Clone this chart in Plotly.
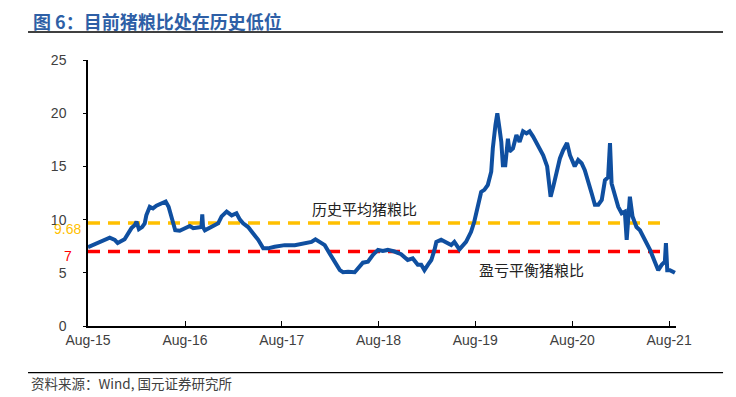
import plotly.graph_objects as go

# ---- data ----
dates = [
    "2015-08-01", "2015-08-27", "2015-09-14", "2015-10-03", "2015-10-22", "2015-11-10", "2015-11-21",
    "2015-12-17", "2015-12-29", "2016-01-12", "2016-01-25", "2016-01-31", "2016-02-09", "2016-02-21",
    "2016-03-02", "2016-03-08", "2016-03-21", "2016-04-02", "2016-04-15", "2016-05-04", "2016-05-20",
    "2016-05-31", "2016-06-08", "2016-06-16", "2016-06-25", "2016-07-12", "2016-08-01", "2016-08-19",
    "2016-09-01", "2016-09-20", "2016-10-02", "2016-10-05", "2016-10-08", "2016-10-15", "2016-11-03",
    "2016-11-22", "2016-12-04", "2016-12-17", "2017-01-05", "2017-01-24", "2017-02-11", "2017-02-24",
    "2017-03-08", "2017-03-27", "2017-04-15", "2017-05-04", "2017-05-23", "2017-06-10", "2017-07-05",
    "2017-08-12", "2017-09-19", "2017-10-27", "2017-11-21", "2017-12-06", "2017-12-22", "2018-01-10",
    "2018-01-29", "2018-02-17", "2018-03-08", "2018-03-20", "2018-04-08", "2018-05-03", "2018-05-16",
    "2018-06-03", "2018-06-22", "2018-07-11", "2018-07-30", "2018-08-17", "2018-09-05", "2018-09-30",
    "2018-10-25", "2018-11-19", "2018-12-08", "2018-12-27", "2019-01-09", "2019-01-21", "2019-02-03",
    "2019-02-16", "2019-02-28", "2019-03-07", "2019-03-25", "2019-04-13", "2019-05-02", "2019-05-14",
    "2019-06-02", "2019-06-27", "2019-07-16", "2019-07-28", "2019-08-10", "2019-08-23", "2019-09-04",
    "2019-09-17", "2019-09-30", "2019-10-06", "2019-10-16", "2019-10-23", "2019-10-31", "2019-11-07",
    "2019-11-13", "2019-11-22", "2019-12-02", "2019-12-08", "2019-12-21", "2020-01-03", "2020-01-15",
    "2020-01-28", "2020-02-10", "2020-02-22", "2020-03-06", "2020-03-25", "2020-04-13", "2020-04-28",
    "2020-05-05", "2020-05-11", "2020-05-21", "2020-06-02", "2020-06-15", "2020-06-27", "2020-07-12",
    "2020-07-23", "2020-08-10", "2020-08-23", "2020-09-05", "2020-09-17", "2020-09-30", "2020-10-13",
    "2020-10-25", "2020-11-07", "2020-11-20", "2020-12-02", "2020-12-14", "2020-12-21", "2020-12-27",
    "2021-01-09", "2021-01-21", "2021-02-03", "2021-02-15", "2021-02-22", "2021-02-28", "2021-03-06",
    "2021-03-16", "2021-03-31", "2021-04-13", "2021-05-02", "2021-05-21", "2021-06-08", "2021-06-21",
    "2021-07-04", "2021-07-16", "2021-07-20", "2021-07-25", "2021-08-04", "2021-08-23",
]
hog_grain_ratio = [
    7.4, 7.7, 7.9, 8.1, 8.3, 8.1, 7.8,
    8.15, 8.7, 9.2, 9.5, 9.8, 9.1, 9.3,
    9.65, 10.4, 11.2, 11.05, 11.3, 11.5, 11.7,
    11.2, 10.4, 9.65, 9.0, 8.95, 9.2, 9.4,
    9.2, 9.3, 9.3, 10.5, 9.3, 9.0, 9.3,
    9.5, 9.65, 10.3, 10.75, 10.4, 10.6, 10.0,
    9.65, 9.3, 8.7, 8.1, 7.3, 7.3, 7.45,
    7.6, 7.6, 7.8, 7.9, 8.15, 7.9, 7.6,
    6.8, 6.05, 5.25, 5.05, 5.1, 5.05, 5.4,
    5.95, 6.05, 6.7, 7.15, 7.05, 7.15, 7.0,
    6.75, 6.2, 6.35, 5.75, 5.75, 5.25, 5.75,
    6.2, 7.15, 7.9, 8.1, 7.8, 7.6, 7.9,
    7.2, 7.9, 8.85, 9.8, 11.4, 12.6, 12.8,
    13.25, 14.5, 16.7, 18.9, 20.0, 18.6, 17.3,
    15.1, 15.1, 17.6, 16.4, 16.7, 17.95, 17.3,
    18.3, 18.1, 18.3, 17.8, 17.0, 16.05, 15.0,
    13.25, 12.15, 13.1, 14.5, 15.75, 16.5, 17.2,
    16.05, 15.0, 15.6, 15.3, 14.65, 13.4, 12.45,
    11.4, 11.4, 11.85, 13.7, 14.0, 17.2, 13.4,
    12.15, 11.2, 10.6, 10.75, 8.1, 11.05, 12.15,
    10.3, 9.3, 9.0, 8.1, 7.15, 6.05, 5.25,
    5.75, 6.05, 7.8, 5.25, 5.25, 5.0,
]
ref_dates = ["2015-08-01", "2021-07-20"]
hist_avg = 9.68
breakeven = 7
tick_dates = ["2015-08-01", "2016-08-01", "2017-08-01", "2018-08-01",
              "2019-08-01", "2020-08-01", "2021-08-01"]
tick_labels = ["Aug-15", "Aug-16", "Aug-17", "Aug-18", "Aug-19", "Aug-20", "Aug-21"]
y_ticks = [0, 5, 10, 15, 20, 25]

title_text = "图 6：目前猪粮比处在历史低位"
source_text = "资料来源：Wind, 国元证券研究所"
avg_label = "历史平均猪粮比"
be_label = "盈亏平衡猪粮比"

# ---- figure ----
fig = go.Figure()
fig.add_trace(go.Scatter(x=ref_dates, y=[hist_avg, hist_avg], mode="lines",
                         line=dict(color="#FFC000", width=3.5, dash="12px,8px"),
                         showlegend=False, hoverinfo="skip"))
fig.add_trace(go.Scatter(x=ref_dates, y=[breakeven, breakeven], mode="lines",
                         line=dict(color="#FF0000", width=3.5, dash="12px,8px"),
                         showlegend=False, hoverinfo="skip"))
fig.add_trace(go.Scatter(x=dates, y=hog_grain_ratio, mode="lines",
                         line=dict(color="#0F4FA0", width=4),
                         showlegend=False))

axis_font = dict(family="Arial, Liberation Sans, sans-serif", size=14, color="#404040")
cjk = "Noto Sans CJK SC, sans-serif"

# page body adds an 8px offset, so the figure is drawn 8px smaller
fig.update_layout(
    width=728, height=389,
    margin=dict(l=80, r=60, t=52, b=71),
    paper_bgcolor="white", plot_bgcolor="white",
    xaxis=dict(type="date", range=["2015-08-01", "2021-08-27"],
               tickvals=tick_dates, ticktext=tick_labels,
               ticks="inside", ticklen=5, tickcolor="black", tickwidth=1.2,
               showline=True, linecolor="black", linewidth=1.5,
               showgrid=False, zeroline=False, tickfont=axis_font),
    yaxis=dict(range=[0, 25], tickvals=y_ticks,
               ticks="outside", ticklen=3, tickcolor="black", tickwidth=1.2,
               showline=True, linecolor="black", linewidth=1.5,
               showgrid=False, zeroline=False, tickfont=axis_font,
               ticklabelstandoff=14),
    showlegend=False,
)

annotations = [
    dict(text=title_text, xref="paper", yref="paper", x=-0.097, y=1.148,
         xanchor="left", yanchor="middle", showarrow=False,
         font=dict(family=cjk, size=18, color="#2E5FA6", weight="bold")),
    dict(text=source_text, xref="paper", yref="paper", x=-0.1, y=-0.2135,
         xanchor="left", yanchor="middle", showarrow=False,
         font=dict(family=cjk, size=13.5, color="#404040")),
    dict(text=avg_label, xref="x", yref="y", x="2018-06-10", y=hist_avg,
         yshift=15, xanchor="center", yanchor="middle", showarrow=False,
         font=dict(family=cjk, size=15, color="#222222")),
    dict(text=be_label, xref="x", yref="y", x="2020-03-01", y=breakeven,
         yshift=-18, xanchor="center", yanchor="middle", showarrow=False,
         font=dict(family=cjk, size=15, color="#222222")),
    dict(text=str(hist_avg), xref="paper", yref="y", x=-0.0085, y=hist_avg,
         yshift=-6, xanchor="right", yanchor="middle", showarrow=False,
         font=dict(family="Arial, Liberation Sans, sans-serif", size=14, color="#FFC000")),
    dict(text=str(breakeven), xref="paper", yref="y", x=-0.024, y=breakeven,
         yshift=-4.5, xanchor="right", yanchor="middle", showarrow=False,
         font=dict(family="Arial, Liberation Sans, sans-serif", size=14, color="#FF0000")),
]
fig.update_layout(annotations=annotations)

fig.add_shape(type="line", xref="paper", yref="paper", x0=-0.102, x1=1.080,
              y0=1.105, y1=1.105, line=dict(color="black", width=1.5))
fig.add_shape(type="line", xref="paper", yref="paper", x0=-0.102, x1=1.080,
              y0=-0.1756, y1=-0.1756, line=dict(color="black", width=1.2))

fig.write_html("out.html")
